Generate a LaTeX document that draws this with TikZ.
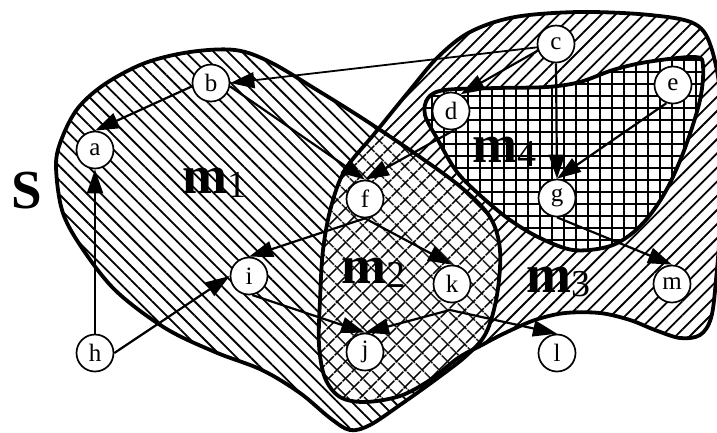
\documentclass[tikz,border=0pt]{standalone}
\usepackage{fontspec}
\setmainfont{Liberation Serif}
\usetikzlibrary{arrows.meta,patterns.meta}
\newcommand{\pathMone}{plot[smooth cycle,tension=0.55] coordinates {(56,165) (62,138) (78,108) (105,84) (145,63) (190,52) (235,50) (270,62) (317,90) (365,120) (420,157) (462,188) (490,217) (500,250) (497,295) (486,333) (466,356) (435,380) (400,405) (370,425) (350,430) (330,418) (300,393) (262,370) (215,352) (165,328) (115,290) (80,245) (62,210)}}
\newcommand{\pathMthree}{plot[smooth cycle,tension=0.55] coordinates {(320,300) (323,250) (331,207) (345,170) (375,133) (410,90) (438,57) (470,32) (515,17) (580,12) (650,15) (695,24) (712,50) (722,110) (722,200) (716,280) (711,318) (700,335) (680,338) (655,330) (630,320) (600,313) (565,313) (535,320) (505,333) (480,346) (458,358) (430,380) (400,396) (365,402) (340,397) (325,378) (319,345)}}
\newcommand{\pathMfour}{plot[smooth cycle,tension=0.55] coordinates {(428,98) (445,90) (497,88) (547,87) (580,82) (613,70) (647,62) (695,57) (703,66) (700,100) (685,148) (668,187) (650,215) (630,235) (607,247) (573,250) (540,238) (510,220) (482,197) (457,172) (438,140) (425,115)}}
\newcommand{\mlab}[1]{{\fontsize{54}{54}\selectfont\bfseries m}{\fontsize{38}{38}\selectfont\raisebox{-4pt}{#1}}}
\begin{document}
\begin{tikzpicture}[x=1pt,y=-1pt,
  nd/.style={circle,draw,line width=1.7pt,fill=white,minimum size=37pt,inner sep=0pt,font=\fontsize{25}{25}\selectfont},
  ed/.style={line width=2.2pt,-{Triangle[length=24pt,width=16pt]}},
  region/.style={line width=3.8pt,line join=round},
  hatchA/.style={pattern={Lines[angle=-45,distance=10pt,line width=1.8pt]},pattern color=black},
  hatchB/.style={pattern={Lines[angle=45,distance=10pt,line width=1.8pt]},pattern color=black},
  crossA/.style={pattern={Lines[angle=-45,distance=13pt,line width=1.7pt]},pattern color=black},
  crossB/.style={pattern={Lines[angle=45,distance=13pt,line width=1.7pt]},pattern color=black},
  gridA/.style={pattern={Lines[angle=0,distance=12pt,line width=2.5pt]},pattern color=black},
  gridB/.style={pattern={Lines[angle=90,distance=12pt,line width=2.5pt]},pattern color=black},
  lab/.style={anchor=base west,inner sep=0pt}
  ]
\useasboundingbox (0,0) rectangle (717,432);
\clip (0,0) rectangle (717,432);
% region fills
\fill[hatchA] \pathMone;
\fill[hatchB] \pathMthree;
\begin{scope}
  \clip \pathMone;
  \fill[white] \pathMthree;
  \fill[crossA] \pathMthree;
  \fill[crossB] \pathMthree;
\end{scope}
\fill[white] \pathMfour;
\fill[gridA] \pathMfour;
\fill[gridB] \pathMfour;
% region outlines
\draw[region] \pathMone;
\draw[region] \pathMthree;
\draw[region] \pathMfour;
% labels
\node[lab] (S) at (11,208) {\fontsize{55}{55}\selectfont\bfseries S};
\node[lab] (m1) at (182,193) {\mlab{1}};
\node[lab] (m2) at (341,283) {\mlab{2}};
\node[lab] (m3) at (526,292) {\mlab{3}};
\node[lab] (m4) at (472,162) {\mlab{4}};
% nodes
\node[nd] (a) at (95,150) {a};
\node[nd] (b) at (211,83) {b};
\node[nd] (c) at (556,44) {c};
\node[nd] (d) at (451,111) {d};
\node[nd] (e) at (673,85) {e};
\node[nd] (f) at (365,199) {f};
\node[nd] (g) at (557,198) {g};
\node[nd] (h) at (95,353) {h};
\node[nd] (i) at (249,276) {i};
\node[nd] (j) at (365,352) {j};
\node[nd] (k) at (452,284) {k};
\node[nd] (l) at (557,353) {l};
\node[nd] (m) at (672,284) {m};
\coordinate (kb) at (450,310);
% edges
\draw[ed] (b.190) -- (a.north);
\draw[ed,line width=1.8pt] (c.190) -- (b.east);
\draw[ed] (b.-10) -- (f.north);
\draw[ed] (c.200) -- (d.60);
\draw[ed] (c.south) -- (g.north);
\draw[ed] (e.250) -- (g.north);
\draw[ed] (d.-80) -- (f.north);
\draw[ed] (f.south) -- (i.north);
\draw[ed] (f.south) -- (k.north);
\draw[ed] (h.north) -- (a.south);
\draw[ed] (h.east) -- (i.west);
\draw[ed] (i.-80) -- (j.north);
\draw[ed] (kb) -- (j.north);
\draw[ed] (kb) -- (l.north);
\draw[ed] (g.south) -- (m.north);
\end{tikzpicture}
\end{document}
